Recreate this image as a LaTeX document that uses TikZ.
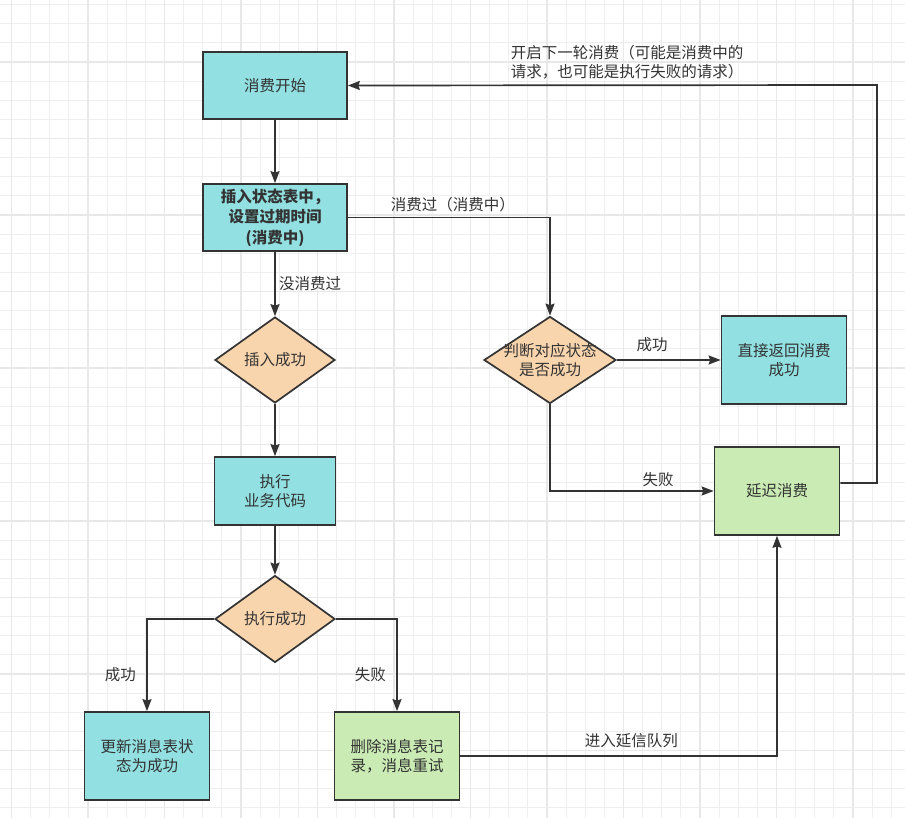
\documentclass[tikz,border=0pt]{standalone}
\usepackage{fontspec}
\setmainfont{Noto Sans CJK SC}
\usepackage{tikz}
\usetikzlibrary{positioning}
\usetikzlibrary{arrows.meta}
\usetikzlibrary{shapes.geometric}

\definecolor{linegray}{HTML}{333333}
\definecolor{boxcyan}{HTML}{92E0E1}
\definecolor{boxpeach}{HTML}{F9D5AE}
\definecolor{boxgreen}{HTML}{CAECB4}
\definecolor{gridminor}{HTML}{EEEEEE}
\definecolor{gridmajor}{HTML}{E8E8E8}

\begin{document}
\begin{tikzpicture}[
            x = 1pt, y = -1pt, % pixel units, y going down
            > = {Stealth[length=12pt, width=9pt, inset=1.5pt]}, % arrow head style
            color = linegray,
            line width = 1.7pt, % line style
            every node/.style = {text = linegray, font = \fontsize{15.5}{19.2}\selectfont},
            node distance = 130pt % distance between nodes
        ]

        \tikzstyle{process}=[
            draw = linegray,
            fill = boxcyan,
            minimum width = 125pt,
            minimum height = 88pt,
            inner sep = 0pt,
            align = center
        ]
        \tikzstyle{retrybox}=[process, fill = boxgreen]
        \tikzstyle{decision}=[
            diamond,
            draw = linegray,
            fill = boxpeach,
            minimum width = 120pt,
            minimum height = 87pt,
            inner sep = 0pt
        ]
        \tikzstyle{gridline}=[draw = gridminor, line width = 1pt]
        \tikzstyle{gridbold}=[draw = gridmajor, line width = 1.3pt]

        % background and grid
        \fill[white] (0,0) rectangle (905,818);
        \useasboundingbox (0,0) rectangle (905,818);
        \foreach \i in {0,...,47}
            \draw[gridline] ({11.5+19.125*\i},0) -- ({11.5+19.125*\i},818);
        \foreach \i in {0,...,42}
            \draw[gridline] (0,{4.625+19.125*\i}) -- (905,{4.625+19.125*\i});
        \foreach \i in {0,...,11}
            \draw[gridbold] ({11.5+76.5*\i},0) -- ({11.5+76.5*\i},818);
        \foreach \i in {0,...,10}
            \draw[gridbold] (0,{62+76.5*\i}) -- (905,{62+76.5*\i});

        % main column
        \node[process, minimum width=144pt, minimum height=67pt] (start) at (275,85.5) {消费开始};
        \node[process, minimum width=144pt, minimum height=67pt,
              font=\fontsize{15.5}{20.5}\selectfont\bfseries] (insert) [below of=start, node distance=132pt]
              {插入状态表中，\\设置过期时间\\(消费中)};
        \node[decision, minimum height=86pt] (insok) [below of=insert, node distance=142.5pt] {插入成功};
        \node[process, minimum width=121pt, minimum height=68pt] (exec) [below of=insok, node distance=131pt] {执行\\业务代码};
        \node[decision] (execok) [below of=exec, node distance=128pt] {执行成功};
        \node[process] (update) at (147,756) {更新消息表状\\态为成功};
        \node[retrybox] (retry) at (397,756) {删除消息表记\\录，消息重试};

        % right side
        \node[decision, minimum width=132pt,
              label={[align=center]center:{判断对应状态\\是否成功}}] (check) [right of=insok, node distance=275pt] {};
        \node[process] (direct) [right of=check, node distance=234pt] {直接返回消费\\成功};
        \node[retrybox] (delay) at (777,491) {延迟消费};
        \coordinate (turn) at (877,85);

        \path[->] (start) edge (insert);
        \draw[->] (insert) -- node[right] {没消费过} (insok);
        \draw[->] (insok) -- (exec);
        \draw[->] (exec) -- (execok);
        \draw[->] (execok.west) -| node[pos=0.8, left=7pt] {成功} (update.north);
        \draw[->] (execok.east) -| node[pos=0.8, left=7pt] {失败} (retry.north);
        \draw[->] (insert.east) -| node[pos=0.26, above=1pt] {消费过（消费中）} (check.north);
        \draw[->] (check) -- node[pos=0.34, above=4pt] {成功} (direct);
        \draw[->] (check.south) |- node[pos=0.83, above] {失败} (delay.west);
        \draw[->] (retry.east) -| node[pos=0.27, above=4pt] {进入延信队列} (delay.south);
        \draw[->] ([yshift=8pt]delay.east) -| (turn) -- node[pos=0.7, anchor=south west, align=left, yshift=2pt]
              {开启下一轮消费（可能是消费中的\\请求，也可能是执行失败的请求）} (start.east);

\end{tikzpicture}
\end{document}
